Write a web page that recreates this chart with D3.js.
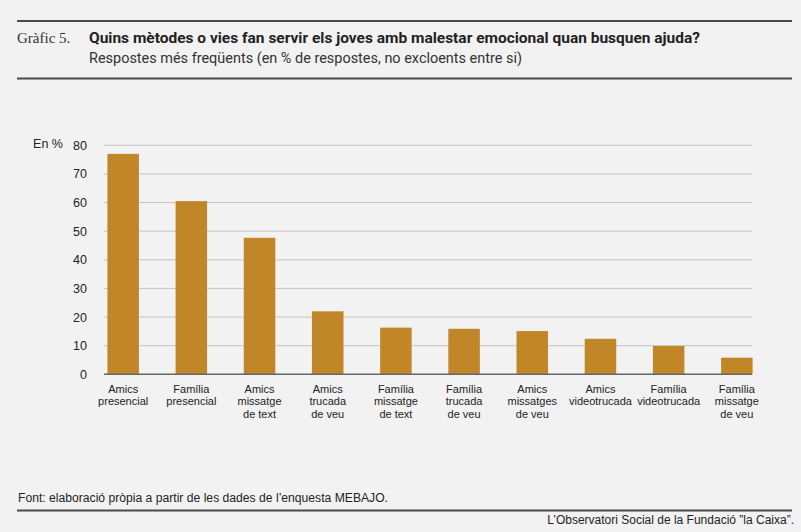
<!DOCTYPE html>
<html>
<head>
<meta charset="utf-8">
<script src="https://cdn.jsdelivr.net/npm/d3@7"></script>
<style>
  html, body { margin: 0; padding: 0; background: #f2f2f2; }
  svg { display: block; }
</style>
</head>
<body>
<script>
const categories = [
  "Amics\npresencial",
  "Família\npresencial",
  "Amics\nmissatge\nde text",
  "Amics\ntrucada\nde veu",
  "Família\nmissatge\nde text",
  "Família\ntrucada\nde veu",
  "Amics\nmissatges\nde veu",
  "Amics\nvideotrucada",
  "Família\nvideotrucada",
  "Família\nmissatge\nde veu"
];
const values = [77.0, 60.5, 47.7, 22.0, 16.3, 15.9, 15.1, 12.4, 9.9, 5.8];
const yTicks = [0, 10, 20, 30, 40, 50, 60, 70, 80];

const W = 801, H = 532;
const svg = d3.select("body").append("svg").attr("width", W).attr("height", H);
svg.append("rect").attr("width", W).attr("height", H).attr("fill", "#f2f2f2");

const sans = "'Liberation Sans', Arial, sans-serif";

// header rules
svg.append("line").attr("x1", 17).attr("x2", 792).attr("y1", 21).attr("y2", 21)
  .attr("stroke", "#4a4a4a").attr("stroke-width", 2);
svg.append("line").attr("x1", 17).attr("x2", 792).attr("y1", 78.5).attr("y2", 78.5)
  .attr("stroke", "#4a4a4a").attr("stroke-width", 2);

svg.append("text").attr("x", 17).attr("y", 43)
  .attr("font-family", "'Liberation Serif', 'DejaVu Serif', serif")
  .attr("font-size", 15).attr("fill", "#333")
  .text("Gràfic 5.");
svg.append("text").attr("x", 89).attr("y", 43)
  .attr("font-family", "Roboto, sans-serif").attr("font-weight", "bold")
  .attr("font-size", 15).attr("fill", "#222")
  .attr("textLength", 611).attr("lengthAdjust", "spacingAndGlyphs")
  .text("Quins mètodes o vies fan servir els joves amb malestar emocional quan busquen  ajuda?");
svg.append("text").attr("x", 89).attr("y", 63)
  .attr("font-family", "Roboto, sans-serif")
  .attr("font-size", 14).attr("fill", "#333")
  .attr("textLength", 433).attr("lengthAdjust", "spacingAndGlyphs")
  .text("Respostes més freqüents (en % de respostes, no excloents entre si)");

// chart
const x = d3.scaleBand().domain(categories).range([104, 756])
  .paddingInner(0.538).paddingOuter(0.05);
const y = d3.scaleLinear().domain([0, 80]).range([374.3, 145.3]);

const grid = svg.append("g");
grid.selectAll("line").data(yTicks.filter(d => d > 0)).join("line")
  .attr("x1", 104).attr("x2", 752)
  .attr("y1", d => y(d)).attr("y2", d => y(d))
  .attr("stroke", "#c4c4c4").attr("stroke-width", 1);

const yAxis = d3.axisLeft(y).tickValues(yTicks).tickSize(0).tickPadding(0);
const gy = svg.append("g").attr("transform", "translate(87,0)").call(yAxis);
gy.select(".domain").remove();
gy.selectAll("text").attr("font-family", sans).attr("font-size", 12.5).attr("fill", "#222");

svg.append("text").attr("x", 63).attr("y", 148).attr("text-anchor", "end")
  .attr("font-family", sans).attr("font-size", 12.5).attr("fill", "#222")
  .text("En %");

svg.append("g").selectAll("rect").data(values).join("rect")
  .attr("x", (d, i) => x(categories[i]))
  .attr("width", x.bandwidth())
  .attr("y", d => y(d))
  .attr("height", d => y(0) - y(d))
  .attr("fill", "#c08628");

svg.append("line").attr("x1", 104).attr("x2", 752).attr("y1", y(0)).attr("y2", y(0))
  .attr("stroke", "#666").attr("stroke-width", 1.5);

const xAxis = d3.axisBottom(x).tickSize(0).tickPadding(0);
const gx = svg.append("g").attr("transform", `translate(0,${y(0)})`).call(xAxis);
gx.select(".domain").remove();
gx.selectAll(".tick text").each(function(d) {
  const t = d3.select(this);
  t.text(null).attr("y", 0).attr("dy", null)
    .attr("font-family", sans).attr("font-size", 11).attr("fill", "#222");
  d.split("\n").forEach((line, i) => {
    t.append("tspan").attr("x", 0).attr("y", 18.5 + i * 12.6).text(line);
  });
});

// footer
svg.append("text").attr("x", 18).attr("y", 502)
  .attr("font-family", sans).attr("font-size", 12).attr("fill", "#222")
  .attr("textLength", 370).attr("lengthAdjust", "spacingAndGlyphs")
  .text("Font: elaboració pròpia a partir de les dades de l’enquesta MEBAJO.");
svg.append("line").attr("x1", 17).attr("x2", 792).attr("y1", 510.5).attr("y2", 510.5)
  .attr("stroke", "#4a4a4a").attr("stroke-width", 2);
svg.append("text").attr("x", 794).attr("y", 524).attr("text-anchor", "end")
  .attr("font-family", sans).attr("font-size", 12).attr("fill", "#222")
  .text("L’Observatori Social de la Fundació ”la Caixa”.");
</script>
</body>
</html>
